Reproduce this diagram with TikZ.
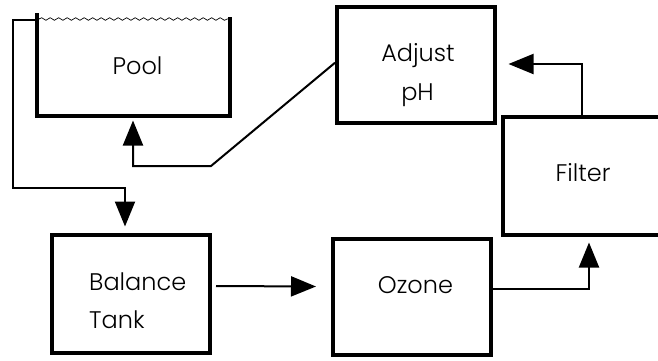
\documentclass[tikz,border=0pt]{standalone}
\usepackage{fontspec}
\setmainfont{Poppins Light}
\usetikzlibrary{arrows.meta,decorations.pathmorphing,calc}
\begin{document}
\begin{tikzpicture}[x=1pt,y=-1pt,
  box/.style={draw, line width=4pt, inner sep=0pt},
  wall/.style={line width=4pt, line join=miter},
  txt/.style={font=\fontsize{24}{38}\selectfont, inner sep=0pt, anchor=base},
  conn/.style={line width=2pt},
  tip/.style={-{Triangle[length=25pt,width=20pt]}},
  water/.style={line width=0.7pt, decorate, decoration={snake, amplitude=1.3pt, segment length=8.5pt}}
]
\useasboundingbox (0,0) rectangle (658,360);

% Pool (open tank)
\node[minimum width=193pt, minimum height=102.5pt, inner sep=0pt, outer sep=0pt] (pool) at (133.5,64.25) {};
\draw[wall] (pool.north west) -- (pool.south west) -- (pool.south east) -- ([yshift=-4pt]pool.north east);
\draw[water] ([xshift=2pt,yshift=-6pt]pool.north west) -- ([xshift=-2pt,yshift=-6pt]pool.north east);
\node[txt] (pooltxt) at (137.5,74) {Pool};

% Boxes
\node[box, minimum width=158pt, minimum height=118pt] (bal) at (131,293.5) {};
\node[txt, anchor=base west] (baltxt1) at (89,290) {Balance};
\node[txt, anchor=base west] (baltxt2) at (89,328) {Tank};

\node[box, minimum width=158pt, minimum height=116pt] (ozone) at (412,297) {};
\node[txt] (ozonetxt) at (415.5,293) {Ozone};

\node[box, minimum width=157.5pt, minimum height=115.5pt] (adjust) at (415.75,64.75) {};
\node[txt] (adjtxt1) at (418,61) {Adjust};
\node[txt] (adjtxt2) at (417.5,100) {pH};

% Filter (cut at right edge)
\node[minimum width=160pt, minimum height=118pt, inner sep=0pt, outer sep=0pt] (filter) at (583,175.5) {};
\draw[wall] (filter.north east) -- (filter.north west) -- (filter.south west) -- (filter.south east);
\node[txt] (filtertxt) at (583,181) {Filter};

% Connectors
\draw[conn, tip, shorten >=6pt] ([yshift=-7pt]pool.north west) -| (13,188) -| ([xshift=-6pt]bal.north);
\draw[conn, tip] ([xshift=4pt,yshift=7.5pt]bal.east) -- ([xshift=-15pt,yshift=10.5pt]ozone.west);
\draw[conn, tip, shorten >=8pt] ([yshift=8pt]ozone.east) -| ([xshift=6pt]filter.south);
\draw[conn, tip, shorten >=12pt] ([xshift=-1pt]filter.north) |- ([yshift=0.75pt]adjust.east);
\draw[conn, tip, shorten >=5pt] ([yshift=2pt]adjust.west) -- (211,166) -| ([xshift=-0.5pt]pool.south);
\end{tikzpicture}
\end{document}
